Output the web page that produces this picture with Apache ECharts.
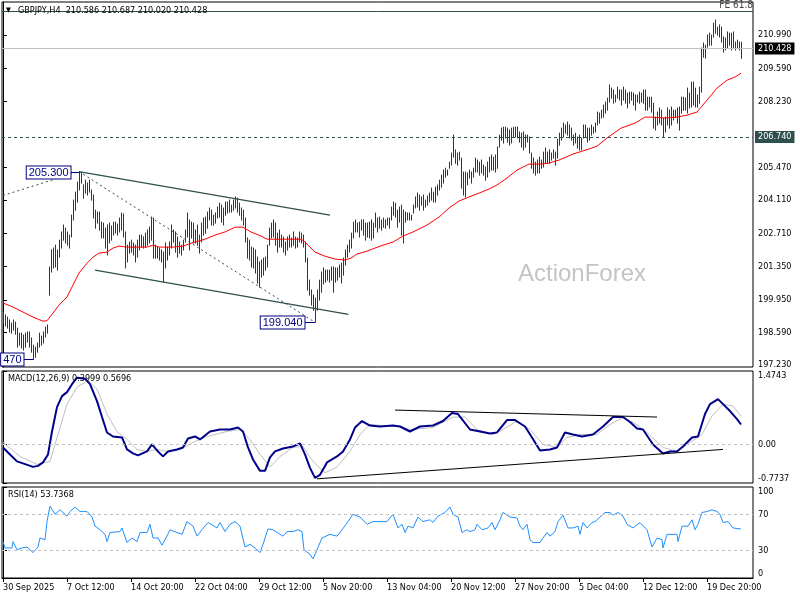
<!DOCTYPE html>
<html><head><meta charset="utf-8">
<script src="https://cdn.jsdelivr.net/npm/echarts@6/dist/echarts.min.js"></script>
<style>html,body{margin:0;padding:0;background:#fff;}#c{width:800px;height:600px;}</style>
</head><body><div id="c"></div>
<script>
// ---- DATA ----
const symbolTitle = 'GBPJPY,H4';
const lastBar = [210.586, 210.687, 210.020, 210.428]; // O H L C
const highs = [
199.44,199.32,199.23,199.11,198.98,199.11,199.02,198.77,198.56,198.56,
198.48,198.56,198.61,198.61,198.36,198.06,197.98,198.15,198.56,198.44,
198.61,198.81,198.90,201.32,202.03,202.11,202.23,202.03,202.44,202.78,
203.07,202.94,202.78,202.65,203.48,204.11,204.44,204.86,205.30,205.24,
204.74,204.94,204.82,204.94,204.53,204.32,203.69,203.61,203.61,203.19,
203.15,202.94,203.07,203.15,203.03,203.19,203.19,203.11,203.36,203.57,
203.53,202.78,202.23,202.36,202.44,202.32,202.23,202.44,202.65,202.65,
202.57,202.73,202.86,202.98,203.40,203.36,202.23,202.15,202.11,202.03,
201.94,202.32,202.15,202.36,203.07,202.86,202.78,202.57,202.36,202.23,
202.44,202.86,203.57,203.28,203.19,203.15,202.86,203.07,202.65,203.15,
203.36,203.40,203.61,203.78,203.69,203.48,203.57,203.82,203.98,203.90,
203.78,204.03,204.03,204.11,203.90,204.11,204.24,204.19,203.98,203.78,
203.69,203.36,202.53,202.44,202.15,202.11,202.03,201.73,201.53,201.61,
201.69,201.73,202.23,202.94,203.15,203.28,203.15,202.73,202.86,202.65,
202.57,202.36,202.57,202.65,202.53,202.78,202.57,202.53,202.78,202.73,
202.65,202.36,201.69,200.77,200.36,200.15,200.02,200.36,200.77,201.11,
201.28,201.19,201.19,201.19,201.32,201.32,201.28,201.28,201.40,201.48,
201.69,202.03,202.23,202.44,202.73,203.19,203.28,203.15,203.19,203.28,
203.28,203.15,203.15,203.19,203.28,203.15,203.57,203.36,203.40,203.28,
203.36,203.28,203.36,203.36,203.82,204.03,203.98,203.69,203.82,203.90,
203.69,203.61,203.57,203.57,203.48,203.90,204.24,204.40,204.32,204.24,
204.32,204.11,204.28,204.40,204.61,204.44,204.65,204.74,204.94,205.15,
205.36,205.44,205.36,205.69,206.07,206.82,206.20,206.07,206.11,205.86,
205.28,205.28,205.24,205.36,205.28,205.44,205.86,205.78,205.69,205.78,
205.57,205.49,205.69,205.90,205.99,205.90,205.99,206.32,206.82,207.11,
207.15,207.15,207.11,207.03,207.11,207.15,207.15,207.15,206.95,206.90,
206.95,206.82,206.82,206.74,206.07,205.86,205.69,205.78,205.90,205.78,
206.11,206.28,206.11,206.20,206.07,206.20,206.11,206.65,206.90,207.11,
207.32,207.24,207.36,207.24,207.11,206.82,206.90,206.74,206.82,206.70,
207.24,207.24,207.11,207.11,207.24,207.15,207.32,207.78,207.74,207.86,
208.07,208.20,208.36,208.91,208.78,208.70,208.49,208.82,208.70,208.70,
208.82,208.70,208.57,208.61,208.61,208.57,208.49,208.49,208.61,208.57,
208.70,208.70,208.40,208.40,208.40,208.15,207.57,207.78,207.95,207.86,
207.53,207.57,207.95,207.86,207.99,207.86,207.86,207.95,207.99,208.40,
208.40,208.36,208.78,208.57,209.03,209.03,208.78,208.49,208.82,210.45,
210.66,210.57,210.99,211.07,210.99,211.49,211.62,211.32,211.41,211.32,
210.91,210.87,211.12,211.07,211.07,211.12,210.70,210.78,210.70,210.687
];
const lows = [
198.98,198.86,198.77,198.61,198.56,198.69,198.52,197.98,198.06,197.94,
197.86,197.98,198.19,197.98,197.77,197.47,197.56,197.77,197.98,198.06,
198.15,198.40,198.56,200.15,201.11,201.28,201.32,201.19,201.73,202.11,
202.44,202.32,202.23,202.11,202.57,203.28,203.69,204.03,204.53,204.82,
204.19,204.40,204.32,204.44,204.11,203.36,202.94,203.15,202.86,202.53,
202.53,202.11,201.82,202.32,202.44,202.65,202.73,202.65,202.78,202.86,
202.57,201.28,201.53,201.90,201.94,201.82,201.53,201.73,202.03,202.15,
202.11,202.15,202.23,202.32,202.44,201.69,201.69,201.69,201.61,201.53,
200.69,201.28,201.61,201.82,202.11,202.36,201.94,201.73,201.90,201.82,
202.03,202.36,202.57,202.03,202.53,202.32,202.32,202.23,201.90,202.36,
202.65,202.73,202.94,203.28,203.07,203.07,203.15,203.36,203.40,203.19,
203.07,203.48,203.57,203.61,203.61,203.69,203.78,203.61,203.48,203.28,
203.07,202.36,201.69,201.61,201.32,201.28,201.07,200.65,200.48,200.90,
200.98,201.19,201.32,202.23,202.53,202.57,202.23,201.94,202.15,202.15,
201.94,201.82,202.03,202.15,202.15,202.23,202.11,202.15,202.36,202.32,
202.15,201.53,200.36,200.15,199.73,199.52,199.04,199.52,199.94,200.27,
200.61,200.69,200.77,200.69,200.77,200.27,200.69,200.77,200.90,200.65,
200.98,201.40,201.73,201.94,202.11,202.53,202.78,202.78,202.57,202.86,
202.65,202.44,202.57,202.53,202.44,202.53,202.98,202.78,202.94,202.86,
202.98,202.94,203.07,202.94,203.28,203.48,203.40,202.98,203.19,202.65,
202.32,203.19,203.28,203.28,203.28,203.57,203.78,203.82,203.69,203.90,
203.69,203.82,203.90,204.03,204.11,204.03,204.03,204.32,204.53,204.65,
204.82,205.07,205.15,205.44,205.57,205.90,205.65,205.57,205.78,204.61,
204.32,204.24,204.74,205.03,204.82,205.07,205.28,205.28,205.15,205.24,
205.15,204.94,205.07,205.28,205.36,205.36,205.28,205.44,206.32,206.61,
206.49,206.70,206.53,206.40,206.49,206.74,206.74,206.70,206.53,206.32,
206.20,206.32,206.53,206.07,205.44,205.24,205.15,205.24,205.24,205.44,
205.49,205.65,205.65,205.65,205.78,205.86,205.57,205.86,206.40,206.61,
206.74,206.90,206.82,206.70,206.61,206.40,206.49,206.28,206.20,206.20,
206.70,206.74,206.53,206.61,206.82,206.90,206.95,207.24,207.32,207.53,
207.57,207.74,207.86,208.20,208.36,208.15,208.20,208.36,208.28,208.07,
208.28,208.15,207.95,208.15,208.28,208.07,207.86,208.20,208.15,208.20,
208.15,207.86,207.86,207.99,207.78,207.11,207.03,207.24,207.32,207.24,
206.74,206.95,207.24,207.11,207.24,207.45,207.57,207.32,207.03,207.74,
207.86,207.86,207.74,207.95,207.99,208.07,207.99,207.99,208.15,208.61,
210.07,210.03,210.49,210.57,210.57,210.91,211.07,210.99,210.91,210.70,
210.28,210.37,210.45,210.57,210.37,210.45,210.37,210.45,210.37,210.020
];
const maPts = [[0,199.82],[5,199.65],[10,199.44],[15,199.23],[20,199.06],[22,199.08],[25,199.40],[28,199.73],[32,200.07],[35,200.57],[38,201.07],[42,201.48],[45,201.73],[48,201.90],[52,201.94],[55,202.11],[58,202.19],[62,202.15],[68,202.15],[72,202.15],[75,202.23],[78,202.15],[85,202.15],[90,202.19],[93,202.28],[96,202.36],[101,202.48],[106,202.65],[111,202.78],[116,202.98],[120,202.98],[124,202.78],[129,202.61],[132,202.48],[141,202.48],[149,202.48],[151,202.36],[156,201.94],[161,201.77],[166,201.65],[171,201.61],[174,201.69],[177,201.86],[182,201.98],[186,202.11],[190,202.23],[195,202.36],[200,202.61],[205,202.78],[212,203.07],[218,203.40],[223,203.78],[228,204.07],[233,204.24],[238,204.40],[243,204.57],[247,204.74],[252,205.03],[257,205.36],[260,205.49],[263,205.61],[268,205.61],[273,205.65],[278,205.78],[285,206.03],[293,206.24],[297,206.36],[302,206.70],[309,207.11],[316,207.32],[321,207.57],[324,207.57],[331,207.53],[337,207.57],[342,207.65],[347,207.78],[352,208.28],[357,208.78],[362,209.11],[366,209.24],[369,209.40]];
const macdPts = [[0,-0.06],[3.5,-0.20],[7,-0.34],[10,-0.38],[15,-0.45],[17.5,-0.43],[20,-0.36],[22.5,-0.20],[24.5,0.26],[27,0.75],[29.5,0.97],[32,1.05],[34.5,1.21],[37,1.34],[41,1.32],[43.5,1.21],[47,0.87],[49.5,0.55],[52,0.24],[55,0.16],[59.5,0.14],[62,-0.10],[65,-0.18],[67.5,-0.22],[72,-0.14],[74.5,0],[77,-0.12],[80,-0.24],[82.5,-0.14],[87,-0.10],[90,-0.06],[92.5,0.12],[96,0.16],[98.5,0.10],[103.5,0.26],[108.5,0.30],[113.5,0.30],[117.5,0.34],[120,0.26],[122.5,-0.06],[125,-0.30],[128.5,-0.53],[131,-0.53],[133.5,-0.26],[136,-0.14],[140,-0.08],[145,-0.04],[148.5,0.02],[151,-0.20],[153.5,-0.47],[156,-0.67],[158.5,-0.61],[162,-0.36],[167,-0.24],[170,-0.14],[173.5,0.10],[176,0.34],[179.5,0.47],[183.5,0.38],[188.5,0.36],[195,0.38],[198.5,0.36],[203.5,0.26],[208.5,0.36],[215,0.38],[220,0.47],[224.5,0.63],[227.5,0.61],[233.5,0.30],[238.5,0.26],[243.5,0.22],[247,0.24],[252,0.49],[256,0.49],[261,0.36],[264.5,0.14],[268.5,-0.12],[273.5,-0.10],[277,-0.06],[281,0.24],[285,0.20],[289.5,0.16],[295,0.20],[300,0.36],[305,0.55],[310,0.55],[313.5,0.45],[317,0.32],[320,0.30],[325,0],[330,-0.18],[333.5,-0.14],[337,-0.14],[340,-0.04],[344.5,0.14],[347.5,0.16],[351,0.61],[353.5,0.81],[357.5,0.91],[360,0.81],[363.5,0.67],[367,0.51],[369,0.3999]];
const signalPts = [[0,0.04],[8.5,-0.24],[17,-0.40],[23.5,-0.34],[27.5,0.20],[32,0.81],[37,1.15],[42.5,1.28],[47,1.11],[52,0.61],[57,0.26],[62,0.10],[67,-0.10],[72,-0.14],[77,-0.10],[82,-0.14],[88.5,-0.10],[95,0.04],[102,0.16],[112,0.26],[118.5,0.30],[123.5,0.10],[128.5,-0.20],[133.5,-0.45],[138.5,-0.24],[145,-0.06],[150,-0.04],[155,-0.34],[161,-0.57],[167,-0.45],[173.5,-0.14],[178.5,0.20],[183.5,0.40],[190,0.38],[198.5,0.36],[203.5,0.30],[215,0.34],[225,0.55],[231,0.55],[237,0.30],[245,0.20],[250,0.30],[257,0.47],[263.5,0.30],[270,0],[277,-0.06],[282,0.14],[288.5,0.20],[297,0.20],[303.5,0.40],[309.5,0.53],[315,0.45],[322,0.24],[330,-0.06],[337,-0.14],[343.5,0.04],[349.5,0.20],[354.5,0.57],[360,0.81],[365,0.77],[369,0.5696]];
const rsiPts = [[0,40],[1,33],[4.5,33],[5,40],[7,31],[9.5,33],[12,34],[15,28],[17.5,34],[18.5,44],[21,42],[22,62],[23.5,79],[26,70],[28.5,75],[32,68],[33.5,73],[36,78],[38.5,73],[42,73],[44.5,67],[46,57],[48.5,53],[51,48],[52,40],[53.5,50],[58.5,51],[59.5,55],[62,39],[64.5,44],[67,40],[68.5,50],[72,50],[73.5,59],[75,44],[77.5,44],[79.5,36],[82,46],[83.5,53],[87,50],[89.5,48],[92,62],[95,57],[97,46],[99.5,53],[102.5,61],[107,55],[108.5,61],[111,51],[113.5,59],[116,62],[118.5,57],[121,34],[123.5,37],[126,33],[128.5,28],[130,37],[132.5,54],[135,53],[138.5,48],[140,46],[142,51],[145,51],[147.5,53],[149.5,51],[150.5,31],[153.5,26],[155,21],[157,31],[159.5,44],[163.5,48],[167,46],[168.5,50],[172.5,62],[175,70],[178.5,67],[182,59],[185,62],[188.5,62],[192,62],[195,70],[197.5,55],[199.5,59],[201,50],[202.5,57],[205,55],[207.5,67],[210,62],[213.5,64],[215,61],[217.5,68],[221,72],[223.5,78],[225,70],[227.5,67],[229.5,50],[232,53],[233.5,51],[236,53],[237,59],[239.5,53],[242.5,55],[244.5,61],[246,53],[248.5,64],[250,72],[253.5,67],[257,66],[258.5,57],[260,53],[262,59],[263.5,42],[265,39],[268.5,39],[270,44],[272,50],[273.5,46],[276,51],[277.5,62],[280,69],[282.5,55],[285,55],[287.5,57],[288.5,48],[290,61],[292,55],[294.5,61],[296,62],[298.5,67],[301,72],[303.5,72],[305,69],[307.5,72],[310,68],[312,59],[315,55],[318.5,61],[322,53],[324.5,34],[327,44],[329.5,42],[330,33],[332,48],[337,48],[337.5,40],[339.5,57],[342.5,57],[344.5,64],[346,53],[347.5,59],[349.5,72],[352,73],[354.5,75],[357,73],[358.5,70],[360,61],[362.5,62],[365,55],[368.5,54],[369,53.7368]];
const priceTicks = [197.23,198.59,199.95,201.35,202.71,204.11,205.47,208.23,209.59,210.99];
const macdTicks = [1.4743, 0, -0.7737];
const rsiTicks = [100, 70, 30, 0];
const rsiLevels = [70, 30];
const timeTicks = [0,32,64,96,128,160,192,224,256,288,320,352];
const timeLabels = ['30 Sep 2025','7 Oct 12:00','14 Oct 20:00','22 Oct 04:00','29 Oct 12:00','5 Nov 20:00','13 Nov 04:00','20 Nov 12:00','27 Nov 20:00','5 Dec 04:00','12 Dec 12:00','19 Dec 20:00'];
const supportLevel = 206.740;
const feLevel = 211.99;
const channelUpper = [[38,205.30],[163.5,203.48]];
const channelLower = [[46,201.19],[172.7,199.34]];
const dottedA = [[0,204.30],[38,205.30]];
const dottedB = [[38,205.30],[155.5,199.04]];
const macdUpperLine = [[196,0.69],[327,0.55]];
const macdLowerLine = [[157,-0.69],[360,-0.10]];
const pointLabels = [['205.300',38,205.30],['199.040',156,199.04],['470',15,197.47]];

// ---- CHART ----
const FONT = '"DejaVu Sans Condensed","DejaVu Sans",sans-serif';
const BAR = '#103F60';
const chart = echarts.init(document.getElementById('c'), null, {renderer:'canvas'});
const grids = [
  {left:2, top:2, width:751, height:365},
  {left:2, top:371, width:751, height:112},
  {left:2, top:487, width:751, height:91}
].map(g => Object.assign(g, {show:true, borderColor:'#000', borderWidth:1, backgroundColor:'#fff'}));

function xAx(i, withLabels){
  return {gridIndex:i, type:'value', min:-0.5, max:375,
    axisLine:{show:withLabels, lineStyle:{color:'#000'}},
    axisTick:{show:withLabels, customValues: timeTicks, length:4, lineStyle:{color:'#000'}},
    axisLabel:{show:withLabels, customValues: timeTicks, formatter: v => timeLabels[timeTicks.indexOf(Math.round(v))] || '',
      align:'left', margin:5, color:'#000', fontFamily:FONT, fontSize:9},
    splitLine:{show:false}};
}
function yAx(i, min, max, ticks, fmt){
  const lab = {customValues: ticks, formatter: fmt, color:'#000', fontFamily:FONT, fontSize:9, margin:5};
  if (i > 0) { lab.verticalAlignMaxLabel = 'bottom'; lab.verticalAlignMinLabel = 'top'; }
  return {gridIndex:i, type:'value', position:'right', min, max,
    axisLine:{show:true, lineStyle:{color:'#000'}},
    axisTick:{show:true, customValues: ticks, length:4, lineStyle:{color:'#000'}},
    axisLabel: lab,
    splitLine:{show:false}};
}
function seg(pts, color, type, width, xi, yi, z){
  return {type:'line', data:pts, xAxisIndex:xi, yAxisIndex:yi, showSymbol:false, symbol:'none', silent:true,
    lineStyle:{color, type, width}, z: z||3, animation:false};
}
const lvlLabel = (bg, val) => ({show:true, position:'end', distance:2, formatter: () => val.toFixed(3),
  backgroundColor:bg, color:'#fff', padding:[2,3,1,3], fontFamily:FONT, fontSize:9});

chart.setOption({
  animation:false,
  backgroundColor:'#fff',
  grid: grids,
  xAxis:[xAx(0,false), xAx(1,false), xAx(2,true)],
  yAxis:[
    yAx(0, 197.15, 212.37, priceTicks, v => v.toFixed(3)),
    yAx(1, -0.7737, 1.4743, macdTicks, v => v === 0 ? '0.00' : v.toFixed(4)),
    yAx(2, 0, 100, rsiTicks, v => String(v))
  ],
  series:[
    {type:'line', data:[], xAxisIndex:0, yAxisIndex:0, silent:true, z:1,
      markLine:{symbol:['none','none'], silent:true, animation:false, data:[
        {yAxis: lastBar[3], lineStyle:{color:'#C0C0C0', type:'solid', width:1}, label: lvlLabel('#000', lastBar[3])},
        {yAxis: supportLevel, lineStyle:{color:'#2F4F4F', type:[3,3], width:1}, label: lvlLabel('#2F4F4F', supportLevel)},
        {yAxis: feLevel, lineStyle:{color:'#2F4F4F', type:'solid', width:1},
          label:{show:true, position:'insideEndTop', distance:[0,1], formatter:'FE 61.8', color:'#444', fontFamily:FONT, fontSize:10}}
      ]}},
    {type:'custom', xAxisIndex:0, yAxisIndex:0, z:2, clip:true,
      data: highs.map((h,i) => [i, lows[i], h]),
      encode:{x:0, y:[1,2]},
      renderItem:(params, api) => {
        const lo = api.coord([api.value(0), api.value(1)]);
        const hi = api.coord([api.value(0), api.value(2)]);
        const x = Math.round(lo[0]) + 0.5;
        return {type:'line', shape:{x1:x, y1:lo[1]+0.5, x2:x, y2:hi[1]-0.5}, style:{stroke:BAR, lineWidth:1}};
      }},
    seg(maPts, '#FF0000', 'solid', 1, 0, 0, 4),
    seg(channelUpper, '#2F4F4F', 'solid', 1.3, 0, 0),
    seg(channelLower, '#2F4F4F', 'solid', 1.3, 0, 0),
    seg(dottedA, '#2F4F4F', [2,3], 1, 0, 0),
    seg(dottedB, '#2F4F4F', [2,3], 1, 0, 0),
    {type:'line', data:signalPts, xAxisIndex:1, yAxisIndex:1, showSymbol:false, symbol:'none', silent:true,
      lineStyle:{color:'#C0C0C0', width:1}, z:2,
      markLine:{symbol:['none','none'], silent:true, label:{show:false},
        data:[{yAxis:0}], lineStyle:{color:'#C0C0C0', type:[3,3], width:1}}},
    {type:'line', data:macdPts, xAxisIndex:1, yAxisIndex:1, showSymbol:false, symbol:'none', silent:true,
      lineStyle:{color:'#00008B', width:2}, z:3},
    seg(macdUpperLine, '#000', 'solid', 1, 1, 1, 4),
    seg(macdLowerLine, '#000', 'solid', 1, 1, 1, 4),
    {type:'line', data:rsiPts, xAxisIndex:2, yAxisIndex:2, showSymbol:false, symbol:'none', silent:true,
      lineStyle:{color:'#1E90FF', width:1}, z:3,
      markLine:{symbol:['none','none'], silent:true, label:{show:false},
        data: rsiLevels.map(v => ({yAxis:v})), lineStyle:{color:'#C0C0C0', type:[3,3], width:1}}}
  ]
});

// text overlays and point labels placed from data coordinates
const lastMacd = macdPts[macdPts.length-1][1], lastSig = signalPts[signalPts.length-1][1];
const lastRsi = rsiPts[rsiPts.length-1][1];
const g = [];
const TXT = (x, y, text, extra) => ({type:'text', x, y, silent:true, z:100,
  style:Object.assign({text, fill:'#000', font:'9px '+FONT, verticalAlign:'middle'}, extra||{})});
g.push(TXT(6, 10.5, '\u25BC', {font:'7px '+FONT}));
g.push(TXT(18, 10.5, symbolTitle + '  ' + lastBar.map(v => v.toFixed(3)).join(' ')));
g.push(TXT(8, 379, 'MACD(12,26,9) ' + lastMacd.toFixed(4) + ' ' + lastSig.toFixed(4)));
g.push(TXT(8, 495, 'RSI(14) ' + lastRsi.toFixed(4)));
g.push({type:'text', x:518, y:274, silent:true, z:0,
  style:{text:'ActionForex', fill:'#C4C4C4', font:'24px "Liberation Sans", Arial, sans-serif', verticalAlign:'middle'}});
const gaps = [9, 11, 10];
pointLabels.forEach((pl, k) => {
  const p = chart.convertToPixel({gridIndex:0}, [pl[1], pl[2]]);
  const px = Math.round(p[0]) + 0.5, py = Math.round(p[1]) + 0.5;
  const bx = px - gaps[k];
  g.push({type:'line', silent:true, z:99, shape:{x1:bx, y1:py, x2:px, y2:py}, style:{stroke:'#000080', lineWidth:1}});
  g.push({type:'text', x:bx, y:py, silent:true, z:100,
    style:{text:pl[0], fill:'#000080', font:'11px "Liberation Sans", Arial, sans-serif', align:'right', verticalAlign:'middle',
      backgroundColor:'#fff', borderColor:'#000080', borderWidth:1, padding:[1,2,0,2], lineHeight:11}});
});
chart.setOption({graphic:{elements:g}});
</script></body></html>
